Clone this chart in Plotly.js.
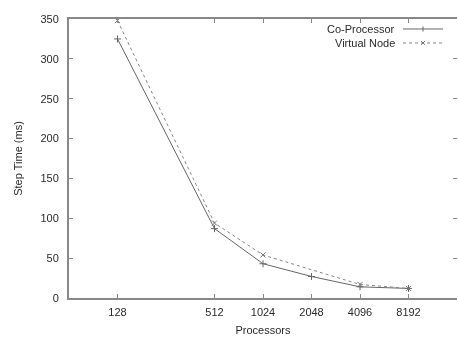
<!DOCTYPE html>
<html>
<head>
<meta charset="utf-8">
<script src="https://cdn.plot.ly/plotly-3.0.1.min.js"></script>
<style>html,body{margin:0;padding:0;background:#fff;}#chart{width:458px;height:337px;}</style>
</head>
<body>
<div id="chart"></div>
<script>
var coProcX = [128, 512, 1024, 2048, 4096, 8192];
var coProcY = [325, 87, 43, 27, 14, 12];
var vnX = [128, 512, 1024, 4096, 8192];
var vnY = [348, 94, 54, 17, 12];
var xTicks = [128, 512, 1024, 2048, 4096, 8192];
var xTickLabels = ['128', '512', '1024', '2048', '4096', '8192'];
var yTicks = [0, 50, 100, 150, 200, 250, 300, 350];
var seriesNames = ['Co-Processor', 'Virtual Node'];

var FONT = 'Liberation Sans, Arial, sans-serif';
var TXT = '#2a2a2a';
var traces = [
  {x: coProcX, y: coProcY, mode: 'lines+markers', name: seriesNames[0],
   line: {color: '#666666', width: 1},
   marker: {symbol: 'cross-thin', size: 5, line: {color: '#666666', width: 1}}},
  {x: vnX, y: vnY, mode: 'lines+markers', name: seriesNames[1],
   line: {color: '#888888', width: 1, dash: 'dot'},
   marker: {symbol: 'x-thin', size: 5, line: {color: '#777777', width: 1}}},
  {x: coProcX, y: coProcY, xaxis: 'x2', yaxis: 'y2', mode: 'markers', opacity: 0,
   marker: {size: 1}, hoverinfo: 'skip', showlegend: false}
];

var axCommon = {ticks: 'inside', ticklen: 4, tickcolor: '#888888', tickwidth: 1,
  showgrid: false, zeroline: false};

var layout = {
  width: 458, height: 337,
  margin: {l: 69, r: 1, t: 19, b: 38.5},
  paper_bgcolor: '#ffffff', plot_bgcolor: '#ffffff',
  showlegend: false,
  font: {family: FONT, size: 11, color: TXT},
  xaxis: Object.assign({}, axCommon, {
    type: 'log', range: [Math.log10(64), Math.log10(16384)],
    tickvals: xTicks, ticktext: xTickLabels, ticklabelstandoff: 3,
    showline: true, linecolor: '#888888', linewidth: 2,
    tickfont: {family: FONT, size: 11, color: TXT},
    title: {text: 'Processors', font: {family: FONT, size: 11, color: TXT}, standoff: 9}
  }),
  xaxis2: Object.assign({}, axCommon, {
    type: 'log', range: [Math.log10(64), Math.log10(16384)], overlaying: 'x', side: 'top',
    tickvals: xTicks, showticklabels: false,
    showline: true, linecolor: '#888888', linewidth: 2
  }),
  yaxis: Object.assign({}, axCommon, {
    range: [0, 350], tickvals: yTicks, ticklabelstandoff: 6,
    showline: true, linecolor: '#888888', linewidth: 2,
    tickfont: {family: FONT, size: 11, color: TXT},
    title: {text: 'Step Time (ms)', font: {family: FONT, size: 11, color: TXT}, standoff: 16}
  }),
  yaxis2: Object.assign({}, axCommon, {
    range: [0, 350], tickvals: yTicks, overlaying: 'y', side: 'right',
    showticklabels: false, showline: false
  }),
  annotations: [
    {xref: 'paper', yref: 'paper', x: (397 - 69) / 388, y: (298.5 - 29) / 279.5, xanchor: 'right', yanchor: 'middle',
     text: seriesNames[0], showarrow: false, font: {family: FONT, size: 11, color: TXT}},
    {xref: 'paper', yref: 'paper', x: (397 - 69) / 388, y: (298.5 - 43) / 279.5, xanchor: 'right', yanchor: 'middle',
     text: seriesNames[1], showarrow: false, font: {family: FONT, size: 11, color: TXT}}
  ],
  shapes: [
    {type: 'line', xref: 'paper', yref: 'paper', x0: (403 - 69) / 388, x1: (443 - 69) / 388,
     y0: (298.5 - 29) / 279.5, y1: (298.5 - 29) / 279.5, line: {color: '#666666', width: 1}},
    {type: 'line', xref: 'paper', yref: 'paper', x0: (403 - 69) / 388, x1: (443 - 69) / 388,
     y0: (298.5 - 43) / 279.5, y1: (298.5 - 43) / 279.5, line: {color: '#888888', width: 1, dash: 'dot'}},
    {type: 'line', xref: 'paper', yref: 'paper', x0: (423 - 69) / 388, x1: (423 - 69) / 388,
     y0: (298.5 - 26.5) / 279.5, y1: (298.5 - 31.5) / 279.5, line: {color: '#666666', width: 1}},
    {type: 'line', xref: 'paper', yref: 'paper', x0: (421 - 69) / 388, x1: (425 - 69) / 388,
     y0: (298.5 - 41) / 279.5, y1: (298.5 - 45) / 279.5, line: {color: '#777777', width: 1}},
    {type: 'line', xref: 'paper', yref: 'paper', x0: (421 - 69) / 388, x1: (425 - 69) / 388,
     y0: (298.5 - 45) / 279.5, y1: (298.5 - 41) / 279.5, line: {color: '#777777', width: 1}}
  ]
};

Plotly.newPlot('chart', traces, layout, {displayModeBar: false, staticPlot: true});
</script>
</body>
</html>
